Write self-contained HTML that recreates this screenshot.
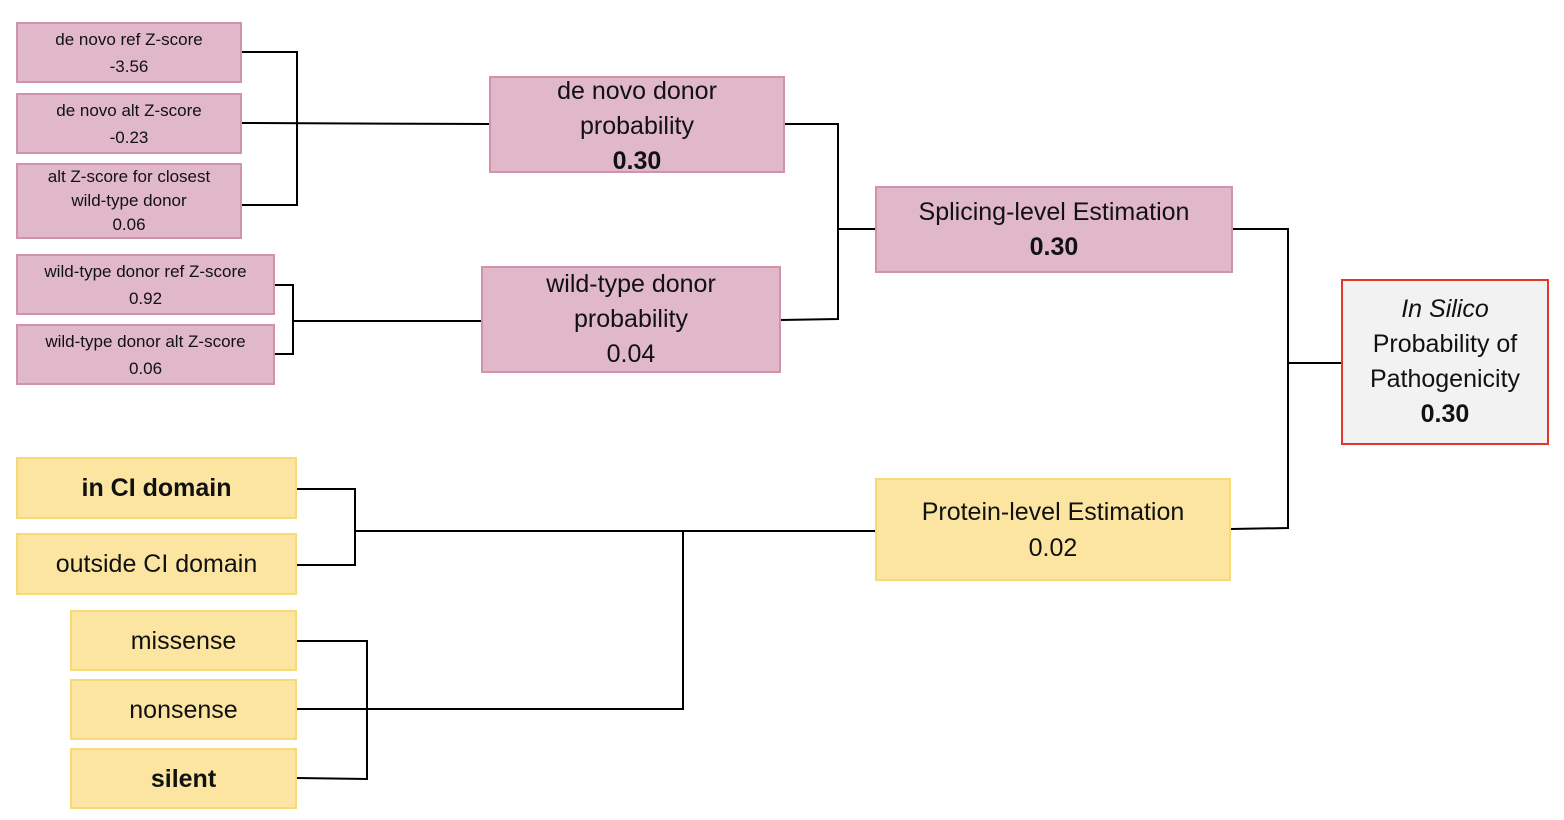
<!DOCTYPE html>
<html><head><meta charset="utf-8">
<style>
html,body{margin:0;padding:0;background:#fff;}
#root{position:relative;width:1564px;height:820px;overflow:hidden;font-family:"Liberation Sans",sans-serif;color:#111;}
.b{position:absolute;box-sizing:border-box;display:flex;flex-direction:column;justify-content:center;align-items:center;text-align:center;}
.p{background:#e0b8c9;border:2px solid #cf93ac;}
.y{background:#fbe5a0;border:2px solid #f6d979;}
.r{background:#f2f2f2;border:2px solid #e0382c;}
.s{font-size:17px;line-height:27px;}
.s3{font-size:17px;line-height:24px;}
.m{font-size:25px;line-height:35px;}
.l{font-size:25px;line-height:36px;}
svg{position:absolute;left:0;top:0;}
</style></head><body>
<div id="root">
<svg width="1564" height="820" stroke="#000" stroke-width="2" fill="none">
<polyline points="242,52 297,52 297,205 242,205"/>
<line x1="242" y1="123" x2="489" y2="124"/>
<polyline points="275,285 293,285 293,354 275,354"/>
<line x1="293" y1="321" x2="481" y2="321"/>
<polyline points="785,124 838,124 838,319 781,320"/>
<line x1="838" y1="229" x2="875" y2="229"/>
<polyline points="1233,229 1288,229 1288,528 1231,529"/>
<line x1="1288" y1="363" x2="1341" y2="363"/>
<polyline points="297,489 355,489 355,565 297,565"/>
<line x1="355" y1="531" x2="875" y2="531"/>
<polyline points="297,641 367,641 367,779 297,778"/>
<polyline points="297,709 683,709 683,531"/>
</svg>
<div class="b p s" style="left:16px;top:22px;width:226px;height:61px"><div>de novo ref Z-score</div><div>-3.56</div></div>
<div class="b p s" style="left:16px;top:93px;width:226px;height:61px"><div>de novo alt Z-score</div><div>-0.23</div></div>
<div class="b p s3" style="left:16px;top:163px;width:226px;height:76px"><div>alt Z-score for closest</div><div>wild-type donor</div><div>0.06</div></div>
<div class="b p s" style="left:16px;top:254px;width:259px;height:61px"><div>wild-type donor ref Z-score</div><div>0.92</div></div>
<div class="b p s" style="left:16px;top:324px;width:259px;height:61px"><div>wild-type donor alt Z-score</div><div>0.06</div></div>
<div class="b p m" style="left:489px;top:76px;width:296px;height:97px;padding-top:4px"><div>de novo donor</div><div>probability</div><div style="font-weight:bold">0.30</div></div>
<div class="b p m" style="left:481px;top:266px;width:300px;height:107px"><div>wild-type donor</div><div>probability</div><div>0.04</div></div>
<div class="b p m" style="left:875px;top:186px;width:358px;height:87px"><div>Splicing-level Estimation</div><div style="font-weight:bold">0.30</div></div>
<div class="b r m" style="left:1341px;top:279px;width:208px;height:166px"><div style="font-style:italic">In Silico</div><div>Probability of</div><div>Pathogenicity</div><div style="font-weight:bold">0.30</div></div>
<div class="b y l" style="left:16px;top:457px;width:281px;height:62px;font-weight:bold">in CI domain</div>
<div class="b y l" style="left:16px;top:533px;width:281px;height:62px">outside CI domain</div>
<div class="b y l" style="left:70px;top:610px;width:227px;height:61px">missense</div>
<div class="b y l" style="left:70px;top:679px;width:227px;height:61px">nonsense</div>
<div class="b y l" style="left:70px;top:748px;width:227px;height:61px;font-weight:bold">silent</div>
<div class="b y l" style="left:875px;top:478px;width:356px;height:103px"><div>Protein-level Estimation</div><div>0.02</div></div>
</div>
</body></html>
